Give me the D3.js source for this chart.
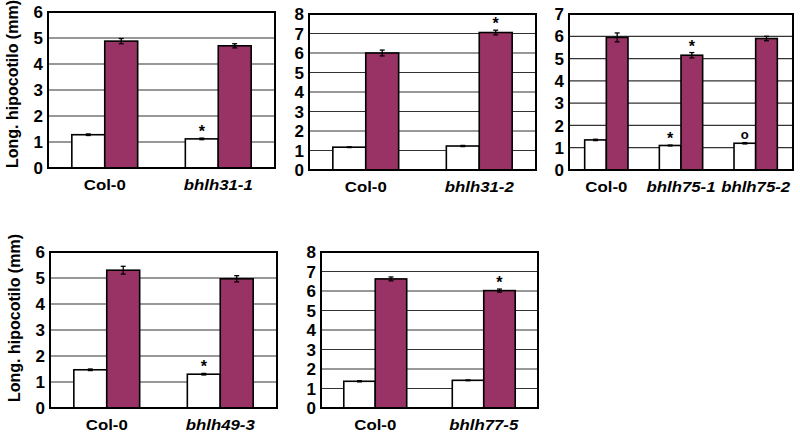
<!DOCTYPE html>
<html><head><meta charset="utf-8">
<script src="https://cdn.jsdelivr.net/npm/d3@7"></script>
<style>body{margin:0;background:#fff}svg{display:block}</style>
</head><body>
<svg id="c" width="800" height="434"></svg>
<script>
// ---- data ----
const yLabel = "Long. hipocotilo (mm)";
const cats1 = ["Col-0", "bhlh31-1"], white1 = [1.28, 1.12], purple1 = [4.88, 4.70], errW1 = [0.03, 0.03], errP1 = [0.10, 0.08], markW1 = ["", "*"], markP1 = ["", ""], max1 = 6;
const cats2 = ["Col-0", "bhlh31-2"], white2 = [1.17, 1.23], purple2 = [6.0, 7.05], errW2 = [0.02, 0.03], errP2 = [0.15, 0.12], markW2 = ["", ""], markP2 = ["", "*"], max2 = 8;
const cats3 = ["Col-0", "bhlh75-1", "bhlh75-2"], white3 = [1.35, 1.10, 1.20], purple3 = [5.95, 5.15, 5.90], errW3 = [0.03, 0.02, 0.03], errP3 = [0.20, 0.12, 0.10], markW3 = ["", "*", "o"], markP3 = ["", "*", ""], max3 = 7;
const cats4 = ["Col-0", "bhlh49-3"], white4 = [1.47, 1.30], purple4 = [5.30, 4.97], errW4 = [0.03, 0.03], errP4 = [0.15, 0.12], markW4 = ["", "*"], markP4 = ["", ""], max4 = 6;
const cats5 = ["Col-0", "bhlh77-5"], white5 = [1.37, 1.42], purple5 = [6.62, 6.02], errW5 = [0.03, 0.02], errP5 = [0.10, 0.08], markW5 = ["", ""], markP5 = ["", "*"], max5 = 8;

const purpleColor = "#993366";
const font = "Arial, 'Liberation Sans', sans-serif";

const svg = d3.select("#c");

function panel(cfg) {
  const {x0, y0, w, h, cats, white, purple, errW, errP, markW, markP, max, label, labelShift} = cfg;
  const g = svg.append("g").attr("transform", `translate(${x0},${y0})`);
  const y = d3.scaleLinear().domain([0, max]).range([h, 0]);
  const x = d3.scaleBand().domain(cats).range([0, w]).paddingInner(0.42).paddingOuter(0.21);
  const xs = d3.scaleBand().domain(["w", "p"]).range([0, x.bandwidth()]);
  // grid
  g.selectAll(".grid").data(d3.range(1, max)).join("line")
    .attr("x1", 0).attr("x2", w).attr("y1", d => y(d)).attr("y2", d => y(d))
    .attr("stroke", "#333").attr("stroke-width", 1.2);
  // bars
  const series = [
    {key: "w", vals: white, errs: errW, marks: markW, fill: "#fff"},
    {key: "p", vals: purple, errs: errP, marks: markP, fill: purpleColor}
  ];
  series.forEach(s => {
    cats.forEach((c, i) => {
      const bx = x(c) + xs(s.key), bw = xs.bandwidth();
      const v = s.vals[i], e = s.errs[i];
      g.append("rect").attr("x", bx).attr("y", y(v)).attr("width", bw).attr("height", h - y(v))
        .attr("fill", s.fill).attr("stroke", "#000").attr("stroke-width", 1.6);
      const cx = bx + bw / 2;
      g.append("line").attr("x1", cx).attr("x2", cx).attr("y1", y(v + e)).attr("y2", y(v - e))
        .attr("stroke", "#000").attr("stroke-width", 1.3);
      [v + e, v - e].forEach(t => g.append("line").attr("x1", cx - 2.5).attr("x2", cx + 2.5)
        .attr("y1", y(t)).attr("y2", y(t)).attr("stroke", "#000").attr("stroke-width", 1.3));
      if (s.marks[i]) {
        g.append("text").attr("x", cx).attr("y", y(v + e) - (s.marks[i] === "o" ? 4 : 1))
          .attr("text-anchor", "middle").attr("font-family", font).attr("font-weight", "bold")
          .attr("font-size", s.marks[i] === "o" ? 13 : 16).text(s.marks[i]);
      }
    });
  });
  // frame
  g.append("rect").attr("x", 0).attr("y", 0).attr("width", w).attr("height", h)
    .attr("fill", "none").attr("stroke", "#000").attr("stroke-width", 2);
  // y ticks
  g.selectAll(".yt").data(d3.range(0, max + 1)).join("text")
    .attr("x", -5).attr("y", d => y(d)).attr("dy", "0.36em").attr("text-anchor", "end")
    .attr("font-family", font).attr("font-weight", "bold").attr("font-size", 17).text(d => d);
  // x labels
  g.selectAll(".xl").data(cats).join("text")
    .attr("transform", d => `translate(${x(d) + x.bandwidth() / 2},${h + 22}) scale(1.12,1)`)
    .attr("text-anchor", "middle")
    .attr("font-family", font).attr("font-weight", "bold").attr("font-size", 15)
    .attr("font-style", d => d === "Col-0" ? "normal" : "italic").text(d => d);
  if (label) {
    g.append("text").attr("transform", `translate(${-30},${h / 2 - 12 + (labelShift || 0)}) rotate(-90)`)
      .attr("text-anchor", "middle").attr("font-family", font).attr("font-weight", "bold")
      .attr("font-size", 16).text(yLabel);
  }
}

panel({x0: 48, y0: 12, w: 227, h: 156, cats: cats1, white: white1, purple: purple1, errW: errW1, errP: errP1, markW: markW1, markP: markP1, max: max1, label: true, labelShift: 6});
panel({x0: 309, y0: 14, w: 227, h: 156, cats: cats2, white: white2, purple: purple2, errW: errW2, errP: errP2, markW: markW2, markP: markP2, max: max2});
panel({x0: 569, y0: 14, w: 224, h: 156, cats: cats3, white: white3, purple: purple3, errW: errW3, errP: errP3, markW: markW3, markP: markP3, max: max3});
panel({x0: 50, y0: 252, w: 227, h: 156, cats: cats4, white: white4, purple: purple4, errW: errW4, errP: errP4, markW: markW4, markP: markP4, max: max4, label: true});
panel({x0: 321, y0: 252, w: 217, h: 156, cats: cats5, white: white5, purple: purple5, errW: errW5, errP: errP5, markW: markW5, markP: markP5, max: max5});
</script>
</body></html>
